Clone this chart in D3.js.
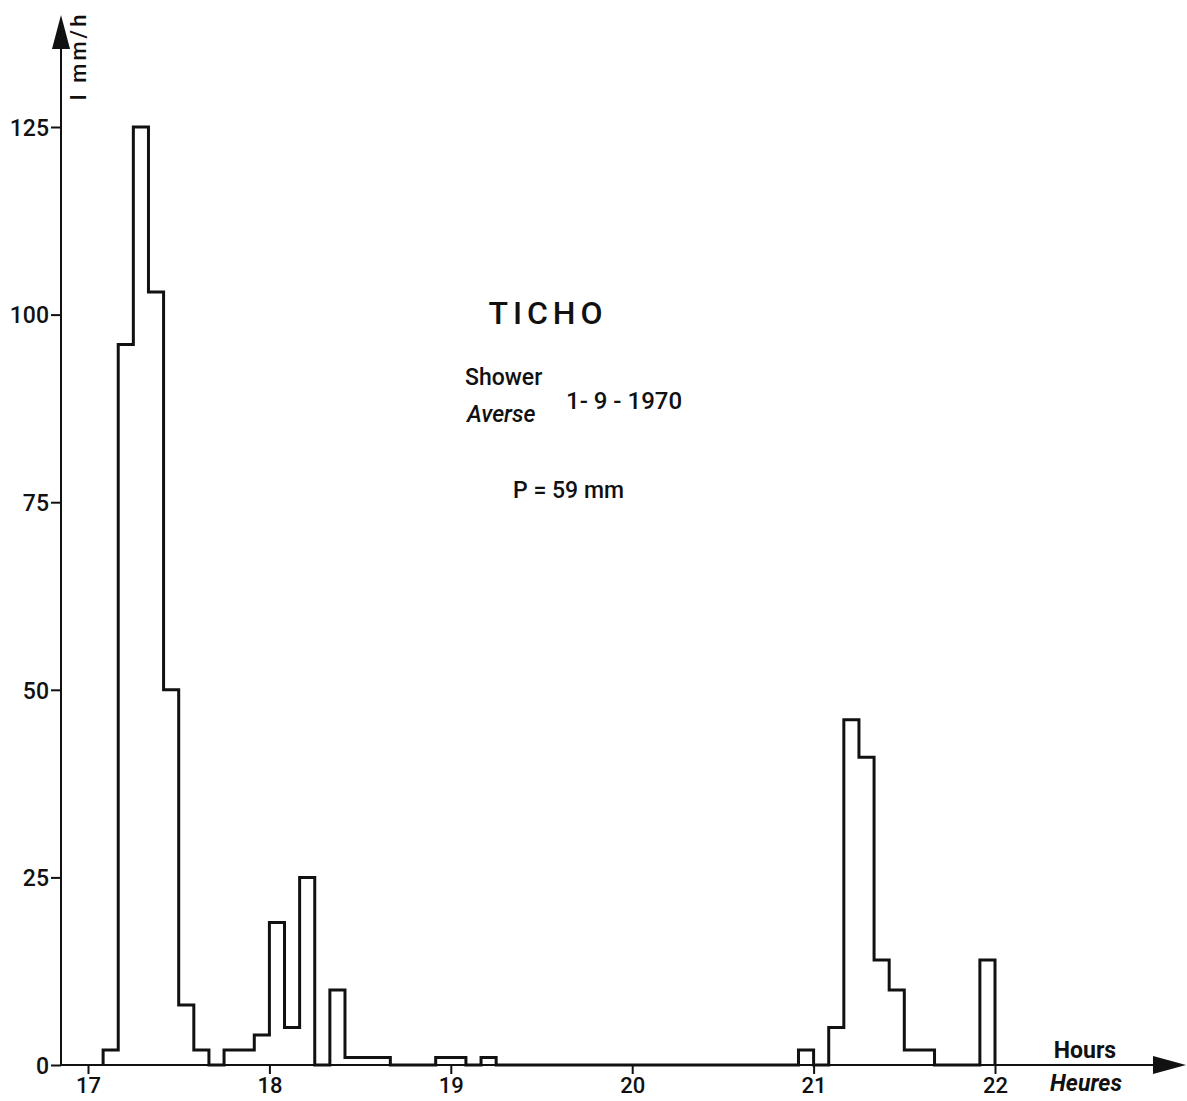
<!DOCTYPE html>
<html>
<head>
<meta charset="utf-8">
<script src="https://cdn.jsdelivr.net/npm/d3@7"></script>
<style>
  html, body { margin: 0; padding: 0; background: #fff; }
  svg { display: block; }
  text { font-family: Roboto, "Liberation Sans", sans-serif; fill: #111; }
</style>
</head>
<body>
<svg id="chart" width="1187" height="1101"></svg>
<script>
// step breakpoints (start of each 5-min run) and rainfall intensity in mm/h
const stepTimes = ["17:05", "17:10", "17:15", "17:20", "17:25", "17:30", "17:35", "17:40", "17:45", "17:55",
                   "18:00", "18:05", "18:10", "18:15", "18:20", "18:25", "18:40", "18:55", "19:05", "19:10",
                   "19:15", "20:55", "21:00", "21:05", "21:10", "21:15", "21:20", "21:25", "21:30", "21:40",
                   "21:55"];
const stepValues = [2, 96, 125, 103, 50, 8, 2, 0, 2, 4,
                    19, 5, 25, 0, 10, 1, 0, 1, 0, 1,
                    0, 2, 0, 5, 46, 41, 14, 10, 2, 0,
                    14];
const endTime = "22:00";

const hourTicks = [17, 18, 19, 20, 21, 22];
const intensityTicks = [0, 25, 50, 75, 100, 125];

const svg = d3.select("#chart");

const toHours = s => { const [h, m] = s.split(":").map(Number); return h + m / 60; };

const x = d3.scaleLinear().domain([17, 22]).range([88, 995]);
const y = d3.scaleLinear().domain([0, 125]).range([1065, 127]);

const axisX0 = 61;

// y axis with arrow
svg.append("line")
    .attr("x1", axisX0).attr("x2", axisX0)
    .attr("y1", y(0)).attr("y2", 44)
    .attr("stroke", "#111").attr("stroke-width", 2);
svg.append("path")
    .attr("d", `M${axisX0},15 L${axisX0 - 9},49 L${axisX0 + 9},49 Z`)
    .attr("fill", "#111");

// x axis with arrow
svg.append("line")
    .attr("x1", axisX0).attr("x2", 1160)
    .attr("y1", y(0)).attr("y2", y(0))
    .attr("stroke", "#111").attr("stroke-width", 2);
svg.append("path")
    .attr("d", `M1186,${y(0)} L1153,${y(0) - 9} L1153,${y(0) + 9} Z`)
    .attr("fill", "#111");

// y ticks
const yAxis = d3.axisLeft(y).tickValues(intensityTicks).tickSize(10).tickPadding(2);
const gy = svg.append("g").attr("transform", `translate(${axisX0},0)`).call(yAxis);
gy.attr("font-family", null).attr("font-size", null);
gy.select(".domain").remove();
gy.selectAll(".tick line").attr("stroke", "#111").attr("stroke-width", 2);
gy.selectAll(".tick text")
    .style("font-size", "23px").style("font-weight", 500)
    .attr("dy", "0.36em")
    .attr("fill", "#111");

// x ticks
const xAxis = d3.axisBottom(x).tickValues(hourTicks).tickSize(9).tickPadding(3).tickFormat(d3.format("d"));
const gx = svg.append("g").attr("transform", `translate(0,${y(0)})`).call(xAxis);
gx.attr("font-family", null).attr("font-size", null);
gx.select(".domain").remove();
gx.selectAll(".tick line").attr("stroke", "#111").attr("stroke-width", 2);
gx.selectAll(".tick text")
    .style("font-size", "22px").style("font-weight", 500)
    .attr("fill", "#111");

// step line (hyetograph)
const pts = [[toHours(stepTimes[0]), 0]];
stepTimes.forEach((t, i) => {
    const t0 = toHours(t);
    const t1 = i + 1 < stepTimes.length ? toHours(stepTimes[i + 1]) : toHours(endTime);
    pts.push([t0, stepValues[i]], [t1, stepValues[i]]);
});
pts.push([toHours(endTime), 0]);

svg.append("path")
    .datum(pts)
    .attr("d", d3.line().x(d => x(d[0])).y(d => y(d[1])))
    .attr("fill", "none")
    .attr("stroke", "#111")
    .attr("stroke-width", 3)
    .attr("stroke-linejoin", "miter");

// small helper for plain labels
function label(px, py, txt, size, opts = {}) {
    const t = svg.append("text").attr("x", px).attr("y", py)
        .style("font-size", size + "px")
        .style("font-weight", opts.weight || 500)
        .style("font-style", opts.italic ? "italic" : "normal")
        .attr("text-anchor", opts.anchor || "start")
        .text(txt);
    if (opts.spacing) t.attr("letter-spacing", opts.spacing);
    return t;
}

// axis titles
svg.append("text")
    .attr("transform", "translate(86,56) rotate(-90)")
    .attr("text-anchor", "middle")
    .style("font-size", "22px").style("font-weight", 500)
    .attr("letter-spacing", 3)
    .text("I mm/h");

label(1085, 1058, "Hours", 23, { anchor: "middle", weight: "bold" });
label(1086, 1091, "Heures", 23, { anchor: "middle", weight: "bold", italic: true });

// annotation block
label(548, 324, "TICHO", 32, { anchor: "middle", spacing: 5 });
label(465, 385, "Shower", 23);
label(467, 422, "Averse", 23, { italic: true });
label(566, 409, "1- 9 - 1970", 24);
label(513, 498, "P = 59 mm", 23);
</script>
</body>
</html>
